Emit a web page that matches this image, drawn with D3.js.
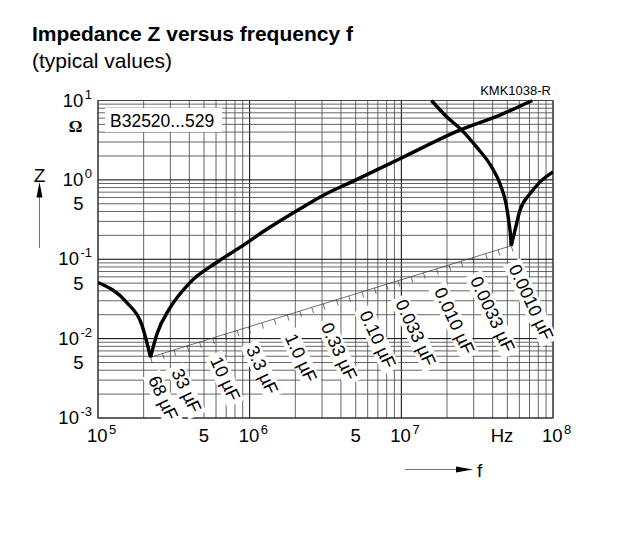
<!DOCTYPE html>
<html>
<head>
<meta charset="utf-8">
<script src="https://cdn.jsdelivr.net/npm/d3@7"></script>
<style>
  body { margin: 0; background: #fff; }
  text { font-family: "Liberation Sans", Arial, Helvetica, sans-serif; fill: #000; }
</style>
</head>
<body>
<svg></svg>
<script>
// impedance curves (f in Hz, Z in ohm)
const lowFreq = [1.0e5, 1.55e5, 1.94e5, 2.22e5, 2.44e5, 2.99e5, 4.04e5, 6.05e5, 8.63e5,
  1.26e6, 2.15e6, 2.90e6, 4.94e6, 9.8e6, 2.43e7, 4.47e7, 7.3e7];
const lowZ = [0.051, 0.0284, 0.0151, 0.00583, 0.0113, 0.0245, 0.0508, 0.091, 0.141,
  0.230, 0.432, 0.605, 0.986, 1.85, 4.24, 6.55, 10];
const highFreq = [1.58e7, 1.99e7, 2.50e7, 3.13e7, 3.94e7, 4.47e7, 4.90e7, 5.14e7, 5.26e7,
  5.30e7, 5.61e7, 6.05e7, 7.05e7, 8.20e7, 1.0e8];
const highZ = [10, 6.24, 4.24, 2.60, 1.45, 0.895, 0.50, 0.279, 0.189,
  0.148, 0.230, 0.411, 0.668, 0.938, 1.26];

// resonance line: end points and capacitance steps (uF)
const locusFreq = [2.22e5, 5.3e7];
const locusZ = [0.00583, 0.148];
const caps = [68, 47, 33, 22, 15, 10, 6.8, 4.7, 3.3, 2.2, 1.5, 1.0, 0.68, 0.47, 0.33, 0.22,
  0.15, 0.10, 0.068, 0.047, 0.033, 0.022, 0.015, 0.010, 0.0068, 0.0047, 0.0033, 0.0022,
  0.0015, 0.0010];
const capLabels = ['68 µF', '33 µF', '10 µF', '3.3 µF', '1.0 µF', '0.33 µF', '0.10 µF',
  '0.033 µF', '0.010 µF', '0.0033 µF', '0.0010 µF'];
const capLabelValues = [68, 33, 10, 3.3, 1.0, 0.33, 0.10, 0.033, 0.010, 0.0033, 0.0010];

// tick labels
const xDecades = [5, 6, 7, 8];
const xFives = [5e5, 5e6];
const yDecades = [1, 0, -1, -2, -3];
const yFives = [0.5, 0.05, 0.005];

const width = 620, height = 536;
const plotLeft = 98, plotRight = 553, plotTop = 100.5, plotBottom = 418;

const svg = d3.select('svg')
  .attr('width', width)
  .attr('height', height)
  .style('background', '#fff');

const x = d3.scaleLog().domain([1e5, 1e8]).range([plotLeft, plotRight]);
const y = d3.scaleLog().domain([1e-3, 1e1]).range([plotBottom, plotTop]);
const isMajor = v => Math.abs(Math.log10(v) - Math.round(Math.log10(v))) < 1e-9;

// grid
const grid = svg.append('g');
grid.selectAll('line.v').data(x.ticks())
  .enter().append('line')
  .attr('x1', d => x(d)).attr('x2', d => x(d))
  .attr('y1', plotTop).attr('y2', plotBottom)
  .attr('stroke', d => isMajor(d) ? '#000' : '#555')
  .attr('stroke-width', d => isMajor(d) ? 1 : 0.9);
grid.selectAll('line.h').data(y.ticks())
  .enter().append('line')
  .attr('y1', d => y(d)).attr('y2', d => y(d))
  .attr('x1', plotLeft).attr('x2', plotRight)
  .attr('stroke', d => isMajor(d) ? '#000' : '#555')
  .attr('stroke-width', d => isMajor(d) ? 1 : 0.9);
grid.append('rect')
  .attr('x', plotLeft).attr('y', plotTop)
  .attr('width', plotRight - plotLeft).attr('height', plotBottom - plotTop)
  .attr('fill', 'none').attr('stroke', '#444').attr('stroke-width', 1);

// type box
svg.append('rect').attr('x', 105).attr('y', 108).attr('width', 117).attr('height', 24).attr('fill', '#fff');
svg.append('text').attr('x', 110).attr('y', 127).style('font-size', '17.5px').text('B32520...529');

svg.append('text').attr('x', 551).attr('y', 95).attr('text-anchor', 'end')
  .style('font-size', '13px').text('KMK1038-R');

// title
svg.append('text').attr('x', 32).attr('y', 41)
  .style('font-size', '21px').style('font-weight', 'bold')
  .text('Impedance Z versus frequency f');
svg.append('text').attr('x', 32).attr('y', 68)
  .style('font-size', '21px').text('(typical values)');

// y tick labels
yDecades.forEach(p => {
  const t = svg.append('text')
    .attr('x', 92).attr('y', y(Math.pow(10, p)) + 6)
    .attr('text-anchor', 'end').style('font-size', '18.5px');
  t.append('tspan').text('10');
  t.append('tspan').attr('dy', -8).attr('dx', 1.5).style('font-size', '13px').text(p < 0 ? '-' + (-p) : p);
});
yFives.forEach(v => {
  svg.append('text').attr('x', 83.5).attr('y', y(v) + 6.5)
    .attr('text-anchor', 'end').style('font-size', '18.5px').text('5');
});
svg.append('text').attr('x', 75.5).attr('y', 132).attr('text-anchor', 'middle')
  .style('font-family', '"Liberation Serif", "DejaVu Serif", serif')
  .style('font-weight', 'bold').style('font-size', '17px').text('Ω');

// x tick labels
xDecades.forEach(p => {
  const t = svg.append('text')
    .attr('x', x(Math.pow(10, p)) - 11).attr('y', 442)
    .style('font-size', '18.5px');
  t.append('tspan').text('10');
  t.append('tspan').attr('dy', -8).attr('dx', 1.5).style('font-size', '13px').text(p);
});
xFives.forEach(v => {
  svg.append('text').attr('x', x(v)).attr('y', 442)
    .attr('text-anchor', 'middle').style('font-size', '18.5px').text('5');
});
svg.append('text').attr('x', 502).attr('y', 442)
  .attr('text-anchor', 'middle').style('font-size', '18.5px').text('Hz');

// axis names with arrows
svg.append('text').attr('x', 39.5).attr('y', 182).attr('text-anchor', 'middle')
  .style('font-size', '19px').text('Z');
svg.append('line').attr('x1', 39.5).attr('x2', 39.5).attr('y1', 248).attr('y2', 196)
  .attr('stroke', '#777').attr('stroke-width', 1);
svg.append('path').attr('d', 'M39.5,182 L42.5,197.5 L36.5,197.5 Z').attr('fill', '#000');

svg.append('line').attr('x1', 405).attr('x2', 458).attr('y1', 469.5).attr('y2', 469.5)
  .attr('stroke', '#777').attr('stroke-width', 1);
svg.append('path').attr('d', 'M473,469.5 L456,466.5 L456,472.5 Z').attr('fill', '#000');
svg.append('text').attr('x', 477).attr('y', 477).style('font-size', '19px').text('f');

// resonance line with capacitance steps
const span = Math.log(caps[0] / caps[caps.length - 1]);
const locusPoint = c => {
  const t = Math.log(caps[0] / c) / span;
  const lf = Math.log10(locusFreq[0]) + t * (Math.log10(locusFreq[1]) - Math.log10(locusFreq[0]));
  const lz = Math.log10(locusZ[0]) + t * (Math.log10(locusZ[1]) - Math.log10(locusZ[0]));
  return [x(Math.pow(10, lf)), y(Math.pow(10, lz))];
};
const p0 = locusPoint(caps[0]), p1 = locusPoint(caps[caps.length - 1]);
const ang = Math.atan2(p1[1] - p0[1], p1[0] - p0[0]);
const nx = -Math.sin(ang), ny = Math.cos(ang);

const labels = svg.append('g');
capLabelValues.forEach((c, i) => {
  const p = locusPoint(c);
  const g = labels.append('g').attr('transform', `translate(${p[0]},${p[1]}) rotate(65)`);
  const rect = g.append('rect').attr('fill', '#fff');
  const t = g.append('text').attr('x', 19).attr('y', 12)
    .style('font-size', '18px').text(capLabels[i]);
  const w = t.node().getComputedTextLength();
  rect.attr('x', 15).attr('y', -3).attr('width', w + 8).attr('height', 19);
});

svg.append('line')
  .attr('x1', p0[0]).attr('y1', p0[1]).attr('x2', p1[0]).attr('y2', p1[1])
  .attr('stroke', '#333').attr('stroke-width', 0.7);
svg.append('g').selectAll('line').data(caps)
  .enter().append('line')
  .attr('x1', d => locusPoint(d)[0]).attr('y1', d => locusPoint(d)[1])
  .attr('x2', d => locusPoint(d)[0] + nx * 6).attr('y2', d => locusPoint(d)[1] + ny * 6)
  .attr('stroke', '#333').attr('stroke-width', 0.7);

// curves: split at resonance so the dip stays sharp
svg.append('clipPath').attr('id', 'plot')
  .append('rect').attr('x', plotLeft).attr('y', plotTop - 1)
  .attr('width', plotRight - plotLeft).attr('height', plotBottom - plotTop + 1);

const line = d3.line().x(d => x(d[0])).y(d => y(d[1])).curve(d3.curveMonotoneX);
const drawCurve = (fs, zs) => {
  const pts = fs.map((f, i) => [f, zs[i]]);
  const m = d3.minIndex(zs);
  [pts.slice(0, m + 1), pts.slice(m)].forEach(seg => {
    svg.append('path').attr('d', line(seg))
      .attr('clip-path', 'url(#plot)')
      .attr('fill', 'none').attr('stroke', '#000').attr('stroke-width', 3.4)
      .attr('stroke-linejoin', 'round');
  });
};
drawCurve(lowFreq, lowZ);
drawCurve(highFreq, highZ);
</script>
</body>
</html>
